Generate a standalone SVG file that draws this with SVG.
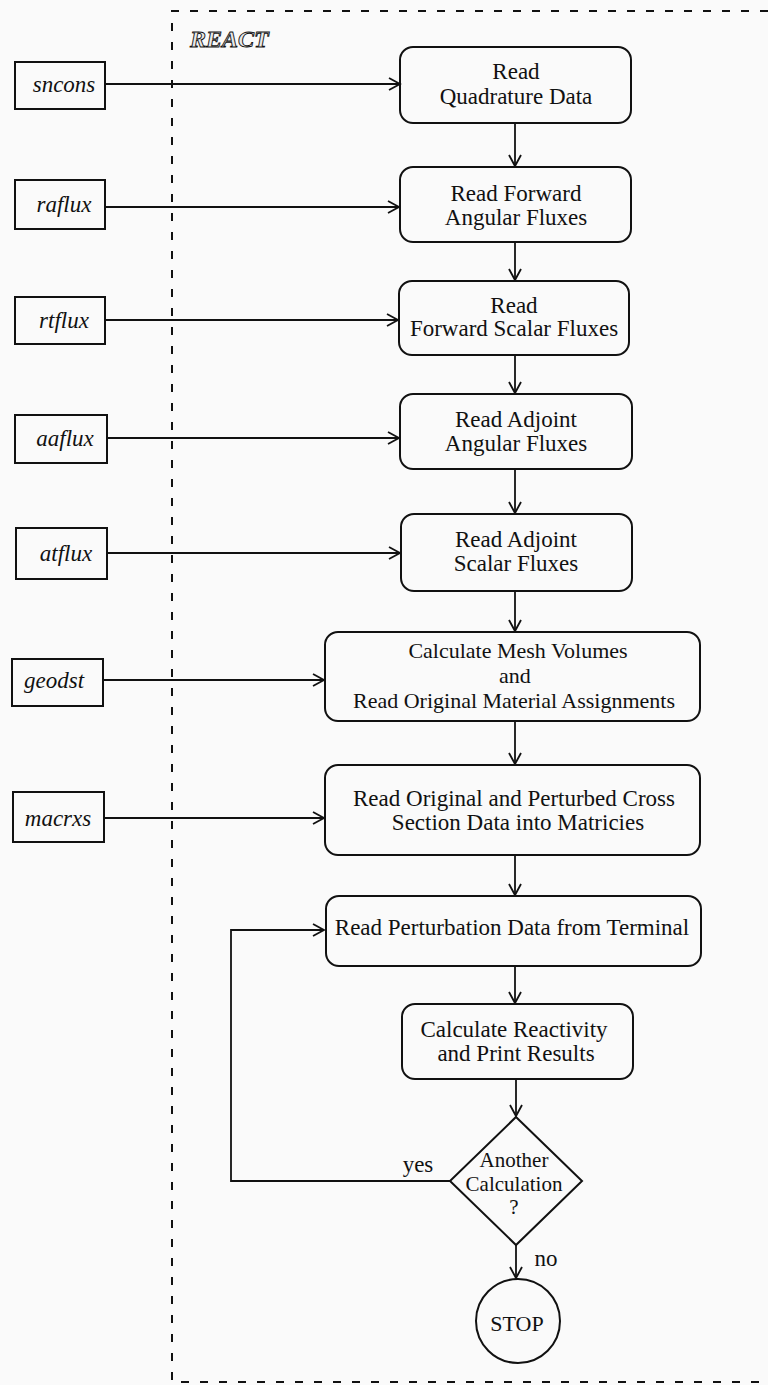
<svg xmlns="http://www.w3.org/2000/svg" width="768" height="1385" viewBox="0 0 768 1385">
<defs>
<marker id="arr" markerUnits="userSpaceOnUse" markerWidth="14" markerHeight="14" viewBox="-12 -7 14 14" refX="0" refY="0" orient="auto">
<path d="M-11,-6 L0,0 L-11,6" fill="none" stroke="#111" stroke-width="1.8"/>
</marker>
<style>
.bg{fill:#fafafa}
.box{fill:none;stroke:#111;stroke-width:2}
.in{fill:none;stroke:#111;stroke-width:2}
.t{font-family:"Liberation Serif","Times New Roman",serif;font-size:23px;fill:#111;text-anchor:middle}
.it{font-family:"Liberation Serif","Times New Roman",serif;font-size:23px;font-style:italic;fill:#111;text-anchor:middle}
.c{fill:none;stroke:#111;stroke-width:1.8}
.border{fill:none;stroke:#111;stroke-width:2;stroke-dasharray:8 11}
</style>
</defs>
<rect class="bg" x="0" y="0" width="768" height="1385"/>
<g id="boundary">
<path class="border" d="M768,11 L172,11 L172,1382 L768,1382"/>
<text x="190" y="47" style="font-family:'Liberation Serif','Times New Roman',serif;font-size:24px;font-weight:bold;font-style:italic;fill:#e8e8e8;stroke:#111;stroke-width:0.9">REACT</text>
</g>
<g id="connectors">
<line class="c" x1="105" y1="84" x2="400" y2="84" marker-end="url(#arr)"/>
<line class="c" x1="105" y1="207" x2="399" y2="207" marker-end="url(#arr)"/>
<line class="c" x1="105" y1="320" x2="398" y2="320" marker-end="url(#arr)"/>
<line class="c" x1="107" y1="438" x2="399" y2="438" marker-end="url(#arr)"/>
<line class="c" x1="107" y1="553" x2="400" y2="553" marker-end="url(#arr)"/>
<line class="c" x1="103" y1="680" x2="324" y2="680" marker-end="url(#arr)"/>
<line class="c" x1="104" y1="818" x2="324" y2="818" marker-end="url(#arr)"/>
<line class="c" x1="515" y1="123" x2="515" y2="166" marker-end="url(#arr)"/>
<line class="c" x1="515" y1="242" x2="515" y2="280" marker-end="url(#arr)"/>
<line class="c" x1="515" y1="355" x2="515" y2="393" marker-end="url(#arr)"/>
<line class="c" x1="515" y1="469" x2="515" y2="513" marker-end="url(#arr)"/>
<line class="c" x1="515" y1="591" x2="515" y2="631" marker-end="url(#arr)"/>
<line class="c" x1="515" y1="721" x2="515" y2="764" marker-end="url(#arr)"/>
<line class="c" x1="515" y1="855" x2="515" y2="895" marker-end="url(#arr)"/>
<line class="c" x1="515" y1="966" x2="515" y2="1003" marker-end="url(#arr)"/>
<line class="c" x1="516" y1="1079" x2="516" y2="1116" marker-end="url(#arr)"/>
<line class="c" x1="516" y1="1245" x2="516" y2="1278" marker-end="url(#arr)"/>
<polyline class="c" points="450,1181 231,1181 231,930 324,930" marker-end="url(#arr)"/>
<text class="t" x="418" y="1172">yes</text>
<text class="t" x="546" y="1266">no</text>
</g>
<g id="in-sncons"><rect class="in" x="15" y="62" width="90" height="47"/><text class="it" x="64" y="92">sncons</text></g>
<g id="in-raflux"><rect class="in" x="15" y="180" width="90" height="49"/><text class="it" x="64" y="212">raflux</text></g>
<g id="in-rtflux"><rect class="in" x="15" y="297" width="90" height="47"/><text class="it" x="64" y="328">rtflux</text></g>
<g id="in-aaflux"><rect class="in" x="15" y="415" width="92" height="48"/><text class="it" x="65" y="446">aaflux</text></g>
<g id="in-atflux"><rect class="in" x="16" y="528" width="91" height="51"/><text class="it" x="66" y="561">atflux</text></g>
<g id="in-geodst"><rect class="in" x="12" y="659" width="91" height="47"/><text class="it" x="54" y="688">geodst</text></g>
<g id="in-macrxs"><rect class="in" x="13" y="792" width="91" height="50"/><text class="it" x="58" y="826">macrxs</text></g>
<g id="n1"><rect class="box" x="400" y="47" width="231" height="76" rx="13"/><text class="t" x="516" y="79">Read</text><text class="t" x="516" y="104">Quadrature Data</text></g>
<g id="n2"><rect class="box" x="400" y="167" width="231" height="75" rx="13"/><text class="t" x="516" y="201">Read Forward</text><text class="t" x="516" y="225">Angular Fluxes</text></g>
<g id="n3"><rect class="box" x="399" y="281" width="230" height="74" rx="13"/><text class="t" x="514" y="313">Read</text><text class="t" x="514" y="336">Forward Scalar Fluxes</text></g>
<g id="n4"><rect class="box" x="400" y="394" width="232" height="75" rx="13"/><text class="t" x="516" y="427">Read Adjoint</text><text class="t" x="516" y="451">Angular Fluxes</text></g>
<g id="n5"><rect class="box" x="401" y="514" width="231" height="77" rx="13"/><text class="t" x="516" y="547">Read Adjoint</text><text class="t" x="516" y="571">Scalar Fluxes</text></g>
<g id="n6"><rect class="box" x="325" y="632" width="375" height="89" rx="13"/><text class="t" x="518" y="658" style="font-size:22px">Calculate Mesh Volumes</text><text class="t" x="515" y="683" style="font-size:22px">and</text><text class="t" x="514" y="708" style="font-size:22px">Read Original Material Assignments</text></g>
<g id="n7"><rect class="box" x="325" y="765" width="375" height="90" rx="13"/><text class="t" x="514" y="806">Read Original and Perturbed Cross</text><text class="t" x="518" y="830">Section Data into Matricies</text></g>
<g id="n8"><rect class="box" x="326" y="896" width="375" height="70" rx="13"/><text class="t" x="512" y="935">Read Perturbation Data from Terminal</text></g>
<g id="n9"><rect class="box" x="402" y="1004" width="231" height="75" rx="13"/><text class="t" x="514" y="1037">Calculate Reactivity</text><text class="t" x="516" y="1061">and Print Results</text></g>
<g id="decision"><polygon class="box" points="516,1117 582,1181 516,1245 450,1181"/><text class="t" x="514" y="1167" style="font-size:21px">Another</text><text class="t" x="514" y="1191" style="font-size:21px">Calculation</text><text class="t" x="514" y="1214" style="font-size:21px">?</text></g>
<g id="stop"><circle class="box" cx="518" cy="1321" r="42"/><text class="t" x="517" y="1331" style="font-size:22px">STOP</text></g>
</svg>
